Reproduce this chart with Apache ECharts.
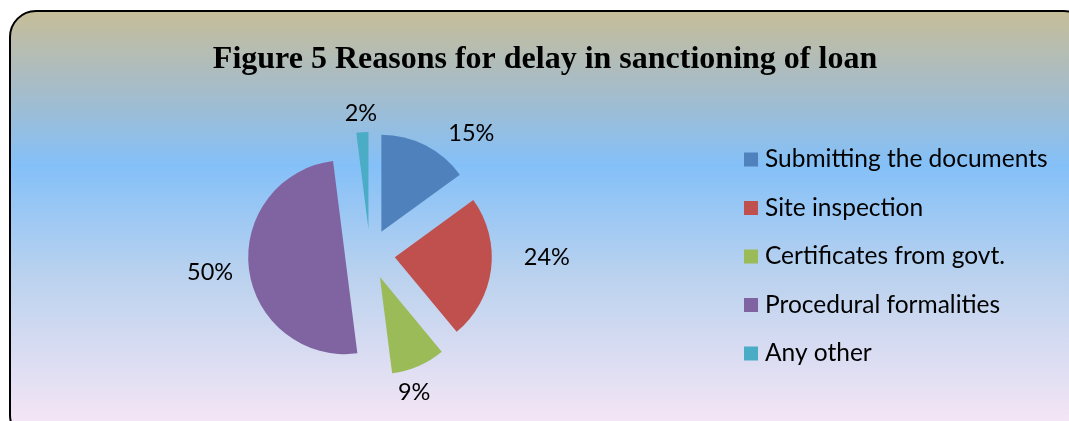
<!DOCTYPE html>
<html><head><meta charset="utf-8">
<script src="https://cdn.jsdelivr.net/npm/echarts@6/dist/echarts.min.js"></script>
<style>html,body{margin:0;padding:0;background:#fff}#c{width:1069px;height:421px}</style>
</head><body><div id="c"></div>
<script>
const categories = ['Submitting the documents','Site inspection','Certificates from govt.','Procedural formalities','Any other'];
const values = [15, 24, 9, 50, 2];
const colors = ['#4F81BD','#C0504D','#9BBB59','#8064A2','#4BACC6'];
const titleText = 'Figure 5 Reasons for delay in sanctioning of loan';
// per-slice label placement (label line length / length2), mimicking Excel best-fit labels
const labelLen = [13, -97, 29, 27, 19];
const labelLen2 = [12, 124, -37, -16, -21];

const chart = echarts.init(document.getElementById('c'));
chart.setOption({
  animation: false,
  graphic: [{
    type: 'rect', z: -10, silent: true,
    shape: { x: 10, y: 11, width: 1080, height: 430, r: 26 },
    style: {
      stroke: '#000', lineWidth: 2,
      fill: new echarts.graphic.LinearGradient(0, 0, 0, 1, [
        { offset: 0, color: '#C6BE98' },
        { offset: 0.14, color: '#AEBCBE' },
        { offset: 0.36, color: '#84C0F8' },
        { offset: 0.62, color: '#BBD2EE' },
        { offset: 1, color: '#FCE8F6' }
      ])
    }
  }],
  title: {
    text: titleText, left: 540, top: 39, textAlign: 'center',
    textStyle: { fontFamily: 'Liberation Serif', fontWeight: 'bold', fontSize: 32, color: '#000' }
  },
  legend: {
    orient: 'vertical', left: 744, top: 147, padding: 0,
    itemWidth: 14, itemHeight: 14, itemGap: 23.5, icon: 'rect',
    textStyle: { fontFamily: 'Lato', fontSize: 24.5, color: '#000', padding: [0,0,0,2] },
    data: categories
  },
  series: [{
    type: 'pie', center: [370, 254], radius: 97,
    startAngle: 90, clockwise: true,
    selectedMode: 'multiple', selectedOffset: 25,
    avoidLabelOverlap: false,
    label: { show: true, position: 'outside', formatter: '{c}%', fontFamily: 'Lato', fontSize: 23.5, color: '#000' },
    labelLine: { show: false },
    emphasis: { disabled: true },
    data: categories.map((n, i) => ({
      name: n, value: values[i], selected: true,
      itemStyle: { color: colors[i] },
      labelLine: { show: false, length: labelLen[i], length2: labelLen2[i] }
    }))
  }]
});
</script></body></html>
